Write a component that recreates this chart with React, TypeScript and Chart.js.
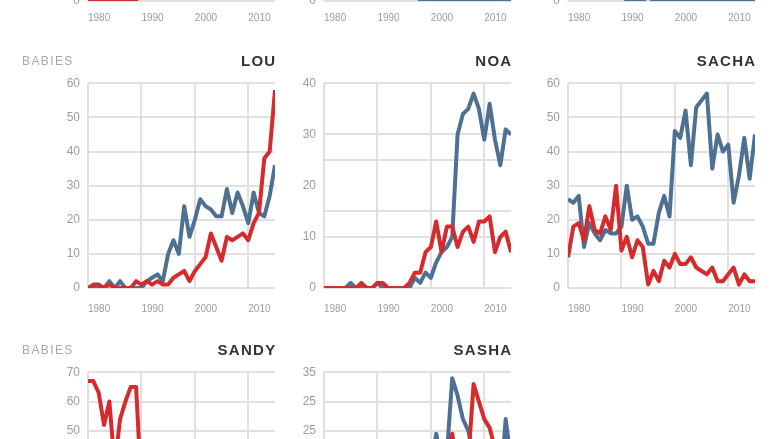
import React, { useEffect, useRef } from 'react';
import { Chart, registerables } from 'chart.js';

Chart.register(...registerables);

// ---------- data ----------
const YEARS = [1980, 1981, 1982, 1983, 1984, 1985, 1986, 1987, 1988, 1989, 1990, 1991, 1992, 1993, 1994, 1995, 1996, 1997, 1998, 1999, 2000, 2001, 2002, 2003, 2004, 2005, 2006, 2007, 2008, 2009, 2010, 2011, 2012, 2013, 2014, 2015];
const X_TICKS = [1980, 1990, 2000, 2010];
const UNIT_LABEL = 'BABIES';

// top row (only the bottom edge of these panels is in view)
const topLeftGirls = [0, 0, 0, 0, 0, 0, 0, 0, 0, 0, 4, 7, 9, 12, 15, 14, 18, 22, 25, 24, 28, 30, 27, 26, 24, 22, 20, 21, 18, 16, 17, 15, 14, 12, 13, 11];
const topLeftBoys = [6, 7, 5, 8, 9, 7, 10, 12, 11, 13, 15, 14, 17, 16, 19, 21, 20, 23, 22, 25, 24, 22, 21, 23, 20, 19, 18, 17, 19, 16, 15, 14, 16, 13, 12, 14];
const topMidGirls = [12, 14, 13, 15, 16, 18, 17, 20, 19, 22, 21, 24, 23, 25, 22, 20, 21, 19, 18, 17, 16, 15, 14, 13, 12, 14, 11, 10, 12, 9, 10, 8, 9, 7, 8, 6];
const topMidBoys = [5, 6, 8, 7, 9, 11, 10, 13, 12, 15, 14, 12, 10, 9, 7, 6, 4, 3, 0, 0, 0, 0, 0, 0, 0, 0, 0, 0, 0, 0, 0, 0, 0, 0, 0, 0];
const topRightGirls = [20, 22, 25, 24, 27, 30, 28, 26, 29, 31, 27, 25, 24, 22, 20, 21, 18, 17, 16, 15, 14, 12, 13, 11, 10, 9, 8, 9, 7, 6, 7, 5, 6, 4, 5, 4];
const topRightBoys = [8, 9, 7, 10, 6, 5, 7, 4, 5, 3, 2, 0, 0, 0, 0, 1, 0, 0, 0, 0, 0, 0, 0, 0, 0, 0, 0, 0, 0, 0, 0, 0, 0, 0, 0, 0];

// LOU
const louGirls = [0, 1, 1, 0, 1, 0, 0, 0, 0, 2, 1, 2, 1, 2, 1, 1, 3, 4, 5, 2, 5, 7, 9, 16, 12, 8, 15, 14, 15, 16, 14, 19, 22, 38, 40, 58];
const louBoys = [0, 0, 0, 0, 2, 0, 2, 0, 0, 0, 0, 2, 3, 4, 2, 10, 14, 10, 24, 15, 20, 26, 24, 23, 21, 21, 29, 22, 28, 24, 19, 28, 22, 21, 27, 36];

// NOA
const noaGirls = [0, 0, 0, 0, 0, 0, 0, 1, 0, 0, 1, 1, 0, 0, 0, 0, 1, 3, 3, 7, 8, 13, 7, 12, 12, 8, 11, 12, 9, 13, 13, 14, 7, 10, 11, 7];
const noaBoys = [0, 0, 0, 0, 0, 1, 0, 0, 0, 0, 1, 0, 0, 0, 0, 0, 0, 2, 1, 3, 2, 5, 7, 8, 10, 30, 34, 35, 38, 35, 29, 36, 29, 24, 31, 30];

// SACHA
const sachaGirls = [9, 18, 19, 14, 24, 17, 16, 21, 17, 30, 11, 15, 9, 14, 12, 1, 5, 2, 8, 6, 10, 7, 7, 9, 6, 5, 4, 6, 2, 2, 4, 6, 1, 4, 2, 2];
const sachaBoys = [26, 25, 27, 12, 19, 16, 14, 17, 16, 16, 18, 30, 20, 21, 18, 13, 13, 22, 27, 21, 46, 44, 52, 36, 53, 55, 57, 35, 45, 40, 42, 25, 33, 44, 32, 45];

// SANDY
const sandyGirls = [67, 67, 63, 52, 60, 38, 54, 60, 65, 65, 30, 22, 15, 12, 9, 8, 6, 5, 4, 4, 3, 3, 2, 2, 1, 1, 2, 1, 0, 1, 0, 0, 1, 0, 0, 0];
const sandyBoys = [12, 10, 11, 9, 8, 9, 7, 8, 6, 7, 5, 6, 4, 5, 3, 4, 3, 2, 3, 2, 2, 1, 2, 1, 1, 0, 1, 1, 0, 0, 1, 0, 0, 0, 0, 0];

// SASHA
const sashaGirls = [0, 0, 0, 0, 0, 0, 0, 0, 0, 0, 0, 0, 0, 0, 1, 2, 4, 6, 9, 12, 15, 18, 17, 20, 24.5, 19, 17, 20, 33, 30, 27, 25.5, 22, 20, 17, 15];
const sashaBoys = [0, 0, 0, 0, 0, 0, 0, 0, 0, 0, 0, 1, 0, 2, 3, 5, 8, 10, 14, 17, 19, 24.5, 20, 21, 34, 31, 27, 25, 21, 19, 17, 16, 18, 15, 27, 20];

// y tick values and labels
const TICKS_0_40 = [0, 10, 20, 30, 40];
const TICKS_0_60 = [0, 10, 20, 30, 40, 50, 60];
const TICKS_0_70 = [0, 10, 20, 30, 40, 50, 60, 70];
const NOA_TICKS = [0, 10, 15, 20, 25, 30, 40];
const NOA_TICK_LABELS = ['0', '10', '', '20', '', '30', '40'];
const NOA_NO_GRID = [20];
const SASHA_TICKS = [0, 5, 10, 15, 20, 25, 30, 35];
const SASHA_TICK_LABELS = ['0', '5', '10', '15', '20', '25', '25', '35'];

// ---------- styling / layout ----------
const RED = '#d52b2d';
const BLUE = '#4e7093';
const GRID = '#e0e0e0';
const TICK_COLOR = '#9c9c9c';
const FONT = '"Liberation Sans", Arial, Helvetica, sans-serif';

const CANVAS_W = 290;
const CANVAS_H = 330;
const PLOT_LEFT = 88;
const PLOT_W = 187;
const PLOT_TOP = 83.3;
const PLOT_BOTTOM = 288;
const COL_X = [0, 236, 480];
const ROW_Y = [-287, 0, 289];
const ROW_XLABEL_PAD = [11, 15, 15];

type Spec = {
  name: string;
  col: number;
  row: number;
  ticks: number[];
  labels?: string[];
  noGrid?: number[];
  girls: number[];
  boys: number[];
};

const PANELS: Spec[] = [
  { name: '', col: 0, row: 0, ticks: TICKS_0_40, girls: topLeftGirls, boys: topLeftBoys },
  { name: '', col: 1, row: 0, ticks: TICKS_0_40, girls: topMidGirls, boys: topMidBoys },
  { name: '', col: 2, row: 0, ticks: TICKS_0_40, girls: topRightGirls, boys: topRightBoys },
  { name: 'LOU', col: 0, row: 1, ticks: TICKS_0_60, girls: louGirls, boys: louBoys },
  { name: 'NOA', col: 1, row: 1, ticks: NOA_TICKS, labels: NOA_TICK_LABELS, noGrid: NOA_NO_GRID, girls: noaGirls, boys: noaBoys },
  { name: 'SACHA', col: 2, row: 1, ticks: TICKS_0_60, girls: sachaGirls, boys: sachaBoys },
  { name: 'SANDY', col: 0, row: 2, ticks: TICKS_0_70, girls: sandyGirls, boys: sandyBoys },
  { name: 'SASHA', col: 1, row: 2, ticks: SASHA_TICKS, labels: SASHA_TICK_LABELS, girls: sashaGirls, boys: sashaBoys },
];

const panelText = {
  id: 'panelText',
  afterDraw(chart: any, _args: any, opts: any) {
    const { ctx, chartArea } = chart;
    const y = chartArea.top - 21.6;
    ctx.save();
    ctx.textBaseline = 'middle';
    if (opts.unit) {
      ctx.font = `12px ${FONT}`;
      ctx.fillStyle = '#a8a8a8';
      (ctx as any).letterSpacing = '1.4px';
      ctx.textAlign = 'left';
      ctx.fillText(opts.unit, 22, y);
    }
    if (opts.name) {
      ctx.font = `bold 15px ${FONT}`;
      ctx.fillStyle = '#333333';
      (ctx as any).letterSpacing = '1.3px';
      ctx.textAlign = 'right';
      ctx.fillText(opts.name, chartArea.right + 1.5, y);
    }
    ctx.restore();
  },
};

function makeConfig(p: Spec): any {
  const yMax = p.ticks[p.ticks.length - 1];
  const noGrid = p.noGrid || [];
  const line = (vals: number[], color: string, label: string) => ({
    label,
    data: YEARS.map((x, i) => ({ x, y: vals[i] })),
    borderColor: color,
    backgroundColor: color,
    borderWidth: 4,
    pointRadius: 0,
    tension: 0,
    fill: false,
    borderJoinStyle: 'round',
    borderCapStyle: 'butt',
  });
  return {
    type: 'line',
    data: {
      datasets: [line(p.girls, RED, 'Girls'), line(p.boys, BLUE, 'Boys')],
    },
    plugins: [panelText],
    options: {
      animation: false,
      responsive: false,
      maintainAspectRatio: false,
      devicePixelRatio: 1,
      events: [],
      layout: {
        padding: { top: PLOT_TOP, left: 0, right: CANVAS_W - PLOT_LEFT - PLOT_W, bottom: 0 },
      },
      plugins: {
        legend: { display: false },
        tooltip: { enabled: false },
        title: { display: false },
        panelText: { unit: p.col === 0 ? UNIT_LABEL : '', name: p.name },
      },
      scales: {
        x: {
          type: 'linear',
          min: YEARS[0],
          max: YEARS[YEARS.length - 1],
          afterBuildTicks: (s: any) => {
            s.ticks = X_TICKS.map((v) => ({ value: v }));
          },
          afterFit: (s: any) => {
            s.height = CANVAS_H - PLOT_BOTTOM;
          },
          grid: { color: GRID, lineWidth: 2, drawTicks: false },
          border: { display: false },
          ticks: {
            align: 'start',
            padding: ROW_XLABEL_PAD[p.row],
            autoSkip: false,
            maxRotation: 0,
            color: TICK_COLOR,
            font: { family: FONT, size: 10 },
            callback: (v: any) => String(v),
          },
        },
        y: {
          type: 'linear',
          min: 0,
          max: yMax,
          afterBuildTicks: (s: any) => {
            s.ticks = p.ticks.map((v) => ({ value: v }));
          },
          afterFit: (s: any) => {
            s.width = PLOT_LEFT;
          },
          grid: {
            color: (c: any) => (c.tick && noGrid.includes(c.tick.value) ? 'rgba(0,0,0,0)' : GRID),
            lineWidth: 2,
            drawTicks: false,
          },
          border: { display: false },
          ticks: {
            padding: 8,
            autoSkip: false,
            color: TICK_COLOR,
            font: { family: FONT, size: 12 },
            callback: (v: any) => {
              const idx = p.ticks.indexOf(v);
              return p.labels && idx >= 0 ? p.labels[idx] : String(v);
            },
          },
        },
      },
    },
  };
}

function Panel({ spec }: { spec: Spec }) {
  const ref = useRef<HTMLCanvasElement>(null);
  useEffect(() => {
    if (!ref.current) return;
    const chart = new Chart(ref.current, makeConfig(spec));
    return () => chart.destroy();
  }, [spec]);
  return (
    <canvas
      ref={ref}
      width={CANVAS_W}
      height={CANVAS_H}
      style={{
        position: 'absolute',
        left: COL_X[spec.col],
        top: ROW_Y[spec.row],
        width: CANVAS_W,
        height: CANVAS_H,
      }}
    />
  );
}

export default function App() {
  return (
    <div
      style={{
        position: 'fixed',
        left: 0,
        top: 0,
        width: 780,
        height: 439,
        overflow: 'hidden',
        background: '#ffffff',
      }}
    >
      {PANELS.map((p, i) => (
        <Panel key={i} spec={p} />
      ))}
    </div>
  );
}
